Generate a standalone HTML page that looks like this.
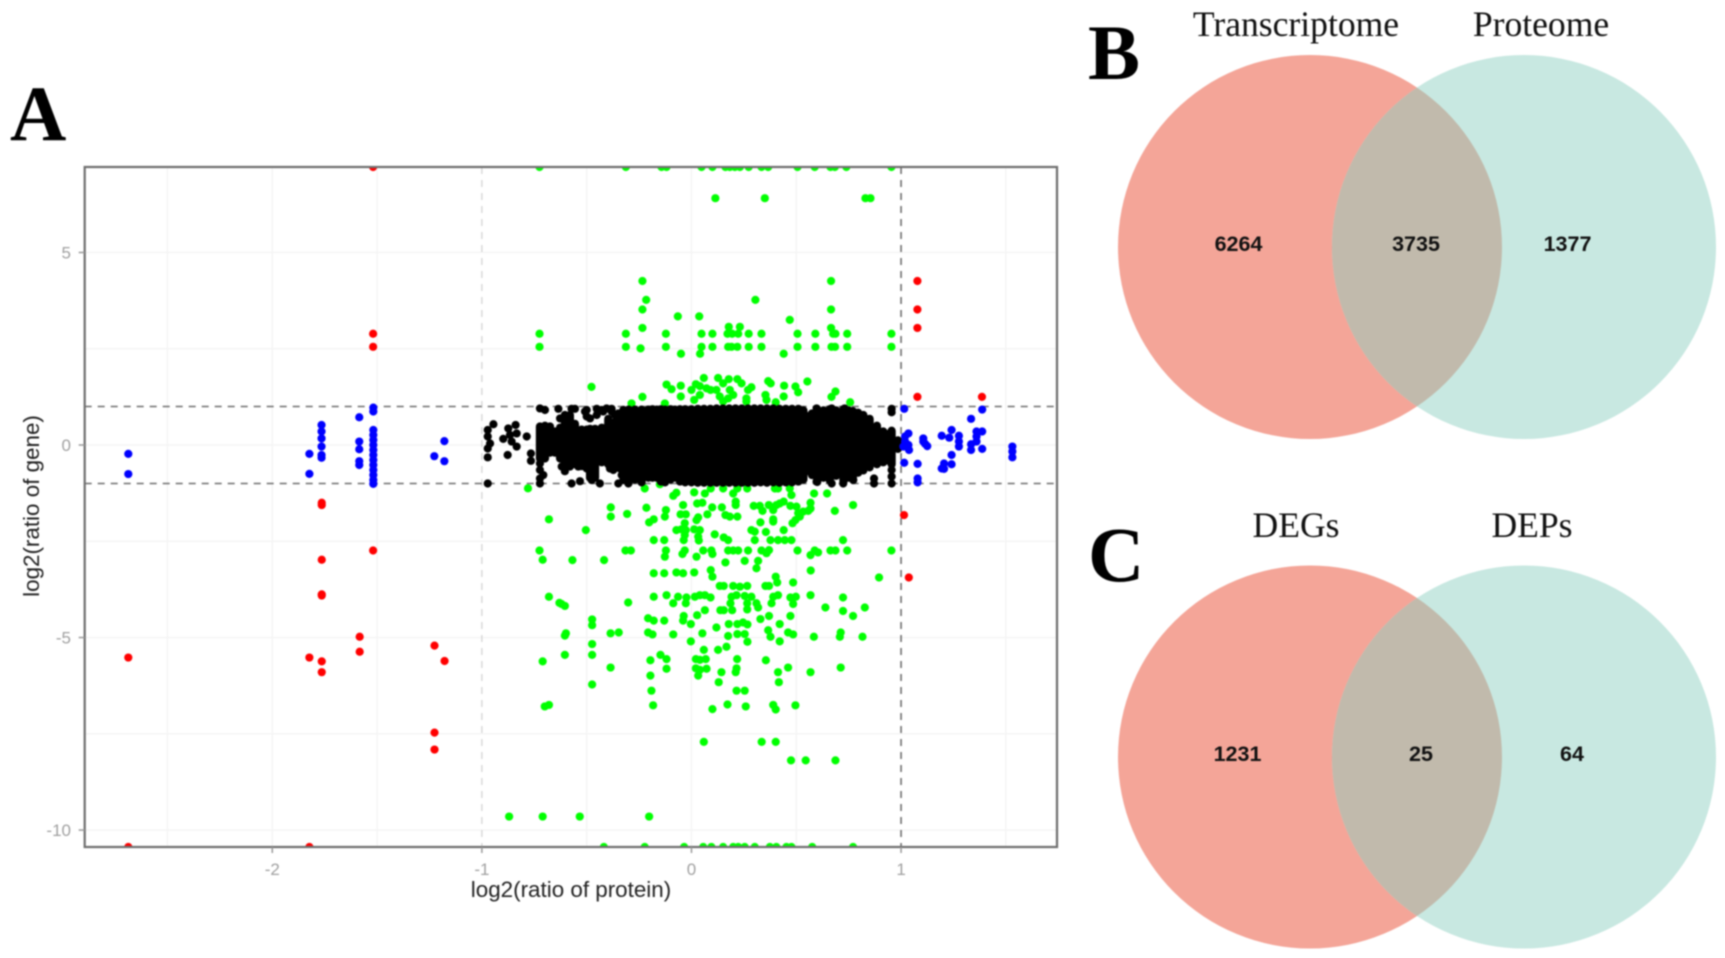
<!DOCTYPE html>
<html lang="en">
<head>
<meta charset="utf-8">
<title>Transcriptome and proteome comparison</title>
<style>
html,body{margin:0;padding:0;background:#fff;width:1725px;height:958px;overflow:hidden}
svg{display:block;filter:blur(0.7px)}
.panel{font-family:"Liberation Serif",serif;font-weight:bold;font-size:78px;fill:#000}
.set{font-family:"Liberation Serif",serif;font-size:35.6px;fill:#111;text-anchor:middle}
.num{font-family:"Liberation Sans",sans-serif;font-weight:bold;font-size:21.5px;fill:#111;text-anchor:middle}
.tick{font-family:"Liberation Sans",sans-serif;font-size:17px;fill:#a0a0a0}
.title{font-family:"Liberation Sans",sans-serif;font-size:22.4px;fill:#222;text-anchor:middle}
</style>
</head>
<body>
<svg id="fig" xmlns="http://www.w3.org/2000/svg" width="1725" height="958" viewBox="0 0 1725 958">
  <defs>
    <clipPath id="panelClip"><rect x="84.7" y="167" width="972.3" height="680"/></clipPath>
    <clipPath id="vennBClip"><ellipse cx="1310" cy="247" rx="192" ry="192"/></clipPath>
    <clipPath id="vennCClip"><ellipse cx="1310" cy="757" rx="192" ry="191.5"/></clipPath>
  </defs>
  <text class="panel" x="10" y="140">A</text>
  <text class="panel" x="1088" y="79">B</text>
  <text class="panel" x="1088" y="581">C</text>

  <g id="plot"></g>
  <text class="title" x="571" y="897">log2(ratio of protein)</text>
  <text class="title" transform="translate(39 506) rotate(-90)">log2(ratio of gene)</text>

  <g>
    <ellipse cx="1310" cy="247" rx="192" ry="192" fill="#f4a598"/>
    <ellipse cx="1524" cy="247" rx="192" ry="192" fill="#c8e8e1"/>
    <ellipse cx="1524" cy="247" rx="192" ry="192" fill="#c1baac" clip-path="url(#vennBClip)"/>
    <text class="set" x="1296" y="36">Transcriptome</text>
    <text class="set" x="1541" y="36">Proteome</text>
    <text class="num" x="1238.5" y="251">6264</text>
    <text class="num" x="1416" y="251">3735</text>
    <text class="num" x="1567.5" y="251">1377</text>
  </g>
  <g>
    <ellipse cx="1310" cy="757" rx="192" ry="191.5" fill="#f4a598"/>
    <ellipse cx="1524" cy="757" rx="192" ry="191.5" fill="#c8e8e1"/>
    <ellipse cx="1524" cy="757" rx="192" ry="191.5" fill="#c1baac" clip-path="url(#vennCClip)"/>
    <text class="set" x="1296" y="537">DEGs</text>
    <text class="set" x="1532" y="537">DEPs</text>
    <text class="num" x="1237.5" y="761">1231</text>
    <text class="num" x="1421" y="761">25</text>
    <text class="num" x="1572" y="761">64</text>
  </g>
</svg>
<script>
const xTickValues=[-2,-1,0,1];
const yTickValues=[5,0,-5,-10];
const xGridValues=[-2.5,-2,-1.5,-0.5,0,0.5,1.5];
const yGridValues=[5,2.5,0,-2.5,-5,-7.5,-10];
const hThresholds=[1,-1];
const vThresholdDark=[1];
const vThresholdLight=[-1];

const redPoints=[[-1.519,7.22],[-1.519,2.89],[-1.519,2.55],[-1.764,-1.5],[-1.764,-1.56],[-1.519,-2.74],[-1.764,-2.98],[-1.764,-3.91],[-1.764,-3.88],[-1.583,-4.98],[-1.583,-5.37],[-1.823,-5.52],[-1.764,-5.62],[-1.764,-5.9],[-2.687,-5.52],[-1.226,-5.21],[-1.178,-5.61],[-1.226,-7.47],[-1.226,-7.91],[-2.687,-10.44],[-1.823,-10.44],[1.078,4.26],[1.078,3.52],[1.078,3.04],[1.078,1.25],[1.386,1.25],[1.014,-1.82],[1.037,-3.44]];

const bluePoints=[[-2.687,-0.23],[-2.687,-0.755],[-1.823,-0.23],[-1.823,-0.75],[-1.765,0.52],[-1.765,0.35],[-1.765,0.17],[-1.765,-0.04],[-1.765,-0.26],[-1.765,-0.33],[-1.585,0.72],[-1.585,0.09],[-1.585,-0.11],[-1.585,-0.42],[-1.585,-0.52],[-1.518,0.97],[-1.518,0.87],[-1.518,0.39],[-1.518,0.26],[-1.518,0.13],[-1.518,0],[-1.518,-0.13],[-1.518,-0.26],[-1.518,-0.39],[-1.518,-0.52],[-1.518,-0.65],[-1.518,-0.78],[-1.518,-0.91],[-1.518,-1.01],[-1.227,-0.29],[-1.179,0.1],[-1.179,-0.42],
[1.015,0.94],[1.019,0.22],[1.035,0.3],[1.019,0.09],[1.035,0],[1.038,-0.13],[1.011,-0.04],[1.106,0.17],[1.106,0.09],[1.125,-0.03],[1.115,0.03],[1.015,-0.46],[1.079,-0.49],[1.079,-0.87],[1.079,-0.97],[1.194,0.24],[1.241,0.39],[1.23,0.19],[1.276,0.24],[1.276,0.09],[1.276,-0.04],[1.241,-0.26],[1.241,-0.5],[1.205,-0.48],[1.194,-0.61],[1.205,-0.62],[1.334,0.68],[1.36,0.35],[1.387,0.35],[1.36,0.22],[1.36,0.09],[1.334,0.02],[1.334,-0.13],[1.387,-0.1],[1.387,0.92],[1.531,-0.04],[1.531,-0.17],[1.531,-0.32]];

const greenPoints=[[-0.725,7.22],[-0.313,7.22],[-0.143,7.22],[-0.119,7.22],[0.048,7.22],[0.1,7.22],[0.162,7.22],[0.183,7.22],[0.207,7.22],[0.231,7.22],[0.273,7.22],[0.334,7.22],[0.366,7.22],[0.506,7.22],[0.588,7.22],[0.663,7.22],[0.684,7.22],[0.739,7.22],[0.954,7.22],
[0.114,6.41],[0.35,6.41],[0.83,6.41],[0.854,6.41],
[-0.234,4.26],[0.666,4.26],[-0.216,3.77],[0.305,3.77],[-0.234,3.52],[0.666,3.52],[-0.065,3.34],[0.037,3.34],[0.469,3.25],[0.178,3.07],[0.231,3.07],[-0.234,3.04],[0.666,3.04],
[-0.725,2.89],[-0.313,2.89],[-0.122,2.89],[0.048,2.89],[0.1,2.89],[0.172,2.89],[0.194,2.89],[0.223,2.89],[0.273,2.89],[0.334,2.89],[0.506,2.89],[0.591,2.89],[0.676,2.89],[0.687,2.89],[0.743,2.89],[0.954,2.89],
[-0.725,2.55],[-0.313,2.55],[-0.122,2.55],[0.048,2.55],[0.1,2.55],[0.175,2.55],[0.191,2.55],[0.219,2.55],[0.273,2.55],[0.334,2.55],[0.506,2.55],[0.591,2.55],[0.668,2.55],[0.685,2.55],[0.743,2.55],[0.954,2.55],[-0.243,2.51],[-0.05,2.37],[0.041,2.37],[0.44,2.37],
[-0.119,1.57],[-0.095,1.45],[-0.051,1.54],[-0.051,1.26],[0,1.43],[0.021,1.58],[0.059,1.74],[0.04,1.53],[0.072,1.47],[0.091,1.43],[0.04,1.3],[0.013,1.17],[0.127,1.74],[0.119,1.43],[0.151,1.6],[0.178,1.71],[0.219,1.71],[0.183,1.43],[0.239,1.6],[0.286,1.5],[0.27,1.43],[0.135,1.26],[0.175,1.21],[0.199,1.3],[0.262,1.21],[0.151,1.13],[0.262,1.13],[0.366,1.66],[0.378,1.6],[0.442,1.54],[0.496,1.52],[0.509,1.37],[0.553,1.65],[0.44,1.26],[0.353,1.3],[0.358,1.17],[0.402,1.11],[0.687,1.39],[0.668,1.25],[0.757,1.11],[-0.234,1.25],[-0.286,1.08],[-0.127,1.08],[-0.477,1.51],
[-0.78,-1.125],[-0.68,-1.93],[-0.725,-2.74],[-0.71,-2.98],[-0.68,-3.94],[-0.63,-4.1],[-0.71,-5.62],[-0.7,-6.79],[-0.68,-6.75],[-0.87,-9.65],[-0.71,-9.65],
[-0.223,-1.13],[-0.151,-1.02],[-0.072,-1.24],[-0.087,-1.32],[0.013,-1.23],[0.064,-1.26],[0.092,-1.13],[0.151,-1.13],[0.199,-1.26],[0.219,-1.13],[0.266,-1.13],[0.398,-1.13],[0.413,-1.13],[0.469,-1.13],[0.477,-1.3],[0.585,-1.26],[0.647,-1.26],
[-0.385,-1.62],[-0.385,-1.86],[-0.307,-1.79],[-0.215,-1.63],[-0.122,-1.69],[-0.127,-1.86],[-0.04,-1.56],[-0.052,-1.8],[-0.027,-1.8],[0.027,-1.52],[0.052,-1.5],[0.211,-1.47],[0.211,-1.56],[0.099,-1.62],[0.076,-1.8],[0.032,-1.88],[0.024,-1.95],[0.145,-1.62],[0.162,-1.82],[0.183,-1.86],[0.219,-1.86],[0.297,-1.58],[0.326,-1.58],[0.339,-1.71],[0.369,-1.56],[0.39,-1.69],[0.421,-1.52],[0.44,-1.47],[0.405,-1.56],[0.472,-1.58],[0.501,-1.6],[0.568,-1.5],[0.568,-1.65],[0.557,-1.71],[0.533,-1.73],[0.509,-1.77],[0.517,-1.86],[0.496,-1.95],[0.482,-2.03],[0.771,-1.56],[0.684,-1.71],[-0.202,-2.01],[-0.18,-1.93],[0.329,-2.01],[0.39,-1.93],[0.39,-1.99],
[-0.504,-2.21],[-0.072,-2.21],[-0.032,-2.03],[-0.048,-2.19],[-0.027,-2.21],[0.013,-2.19],[0.04,-2.21],[0.032,-2.38],[0.035,-2.48],[-0.032,-2.34],[-0.037,-2.47],[0.111,-2.32],[0.154,-2.4],[0.175,-2.47],[0.286,-2.21],[0.302,-2.25],[0.355,-2.26],[0.44,-2.21],[0.302,-2.47],[0.377,-2.47],[0.413,-2.47],[0.445,-2.47],[0.477,-2.47],[0.723,-2.47],[-0.18,-2.47],[-0.13,-2.47],
[-0.315,-2.74],[-0.289,-2.74],[-0.122,-2.74],[-0.127,-2.9],[-0.032,-2.74],[-0.043,-2.83],[0.056,-2.74],[0.095,-2.74],[0.1,-2.83],[0.024,-2.9],[0.175,-2.74],[0.199,-2.74],[0.223,-2.74],[0.27,-2.74],[0.334,-2.74],[0.37,-2.73],[0.358,-2.81],[0.506,-2.74],[0.588,-2.74],[0.604,-2.79],[0.568,-2.86],[0.663,-2.74],[0.687,-2.74],[0.743,-2.74],[0.954,-2.74],[-0.568,-2.99],[-0.417,-2.99],[0.162,-3.05],[0.254,-3.01],[0.318,-3.01],[0.31,-3.2],
[-0.18,-3.33],[-0.13,-3.33],[-0.072,-3.31],[-0.04,-3.33],[0.013,-3.31],[0.092,-3.25],[0.1,-3.42],[0.569,-3.26],[0.402,-3.42],[0.409,-3.57],[0.485,-3.57],[0.895,-3.44],
[0.135,-3.66],[0.154,-3.66],[0.199,-3.66],[0.231,-3.68],[0.266,-3.66],[0.353,-3.66],[0.37,-3.66],[-0.18,-3.94],[-0.119,-3.9],[-0.087,-4.11],[-0.064,-3.94],[-0.024,-3.96],[-0.027,-4.11],[0.016,-3.94],[0.04,-3.9],[0.064,-3.9],[0.091,-3.96],[0.215,-3.9],[0.191,-3.94],[0.186,-4.11],[0.254,-3.92],[0.286,-3.94],[0.266,-4.11],[0.266,-4.27],[0.31,-4.11],[0.318,-4.22],[0.39,-3.94],[0.413,-3.9],[0.382,-4.11],[0.472,-3.96],[0.498,-3.94],[0.485,-4.13],[0.568,-3.9],[0.723,-3.96],[0.639,-4.22],[0.723,-4.31],[0.771,-4.44],[0.827,-4.22],[-0.302,-4.09],[-0.604,-4.18],[-0.62,-4.13],
[-0.474,-4.53],[-0.474,-4.68],[-0.207,-4.5],[-0.18,-4.56],[-0.13,-4.56],[-0.037,-4.44],[-0.04,-4.56],[-0.003,-4.65],[0.027,-4.42],[0.064,-4.29],[0.138,-4.29],[0.154,-4.29],[0.194,-4.29],[0.329,-4.52],[0.37,-4.44],[0.472,-4.44],[0.421,-4.65],[0.178,-4.65],[0.219,-4.65],[0.246,-4.61],[0.267,-4.66],
[-0.599,-4.89],[-0.604,-4.95],[-0.386,-4.89],[-0.347,-4.87],[-0.207,-4.87],[-0.186,-4.92],[-0.087,-4.92],[0.052,-4.89],[0.119,-4.74],[0.175,-4.96],[0.219,-4.91],[0.254,-4.91],[0.366,-4.81],[0.377,-4.98],[0.461,-4.87],[0.485,-4.92],[0.584,-4.98],[0.712,-4.87],[0.708,-4.98],[0.816,-4.98],[0.267,-5.11],[0.421,-5.1],[-0.003,-5.1],[-0.474,-5.17],
[-0.604,-5.45],[-0.474,-5.45],[-0.148,-5.45],[-0.119,-5.56],[-0.196,-5.59],[0.059,-5.32],[0.127,-5.32],[0.167,-5.24],[0.021,-5.56],[0.04,-5.58],[0.068,-5.56],[0.218,-5.56],[0.355,-5.59],[-0.386,-5.78],[-0.119,-5.81],[-0.196,-5.99],[0.021,-5.8],[0.04,-5.84],[0.072,-5.81],[0.032,-5.99],[0.143,-5.9],[0.215,-5.8],[0.211,-5.9],[0.413,-5.9],[0.461,-5.78],[0.568,-5.9],[0.712,-5.78],[-0.474,-6.22],[0.13,-6.16],[0.417,-6.16],
[-0.191,-6.38],[0.215,-6.38],[0.254,-6.38],[-0.183,-6.76],[0.1,-6.86],[0.172,-6.74],[0.259,-6.79],[0.39,-6.75],[0.402,-6.87],[0.496,-6.76],[0.059,-7.71],[0.335,-7.71],[0.402,-7.71],[0.475,-8.19],[0.545,-8.19],[0.687,-8.19],[-0.533,-9.65],[-0.202,-9.65],
[-0.418,-10.44],[-0.223,-10.44],[-0.035,-10.44],[0.056,-10.44],[0.095,-10.44],[0.151,-10.44],[0.199,-10.44],[0.223,-10.44],[0.254,-10.44],[0.302,-10.44],[0.374,-10.44],[0.405,-10.44],[0.453,-10.44],[0.477,-10.44],[0.576,-10.44],[0.771,-10.44]];

const blackPoints=[[-0.972,-1],[-0.972,-0.32],[-0.877,-0.26],[-0.972,-0.09],[-0.961,0.04],[-0.972,0.22],[-0.972,0.39],[-0.945,0.54],[-0.898,0.16],[-0.874,0.43],[-0.866,0.26],[-0.858,0.09],[-0.839,0.52],[-0.834,0.3],[-0.834,-0.04],[-0.786,0.22],[-0.766,-0.22],[-0.766,-0.41],
[-0.723,0.95],[-0.699,0.91],[-0.635,0.94],[-0.572,0.94],[-0.58,0.78],[-0.5,0.91],[-0.5,0.74],[-0.452,0.94],[-0.405,0.95],[-0.421,0.87],[-0.381,0.87],[-0.365,0.78],
[-0.627,0.69],[-0.604,0.78],[-0.556,0.94],[-0.508,0.87],[-0.484,0.69],[-0.452,0.78],[-0.428,0.91],[-0.381,0.94],[-0.349,0.82],[-0.325,0.91],
[-0.723,-0.48],[-0.723,-0.65],[-0.723,-1],[-0.707,-0.78],[-0.723,-0.87],[-0.604,-0.68],[-0.572,-1],[-0.532,-0.94],[-0.476,-0.91],[-0.476,-0.74],[-0.437,-1],[-0.389,-0.61],[-0.349,-1],[-0.301,-1],
[-0.619,-0.56],[-0.58,-0.56],[-0.54,-0.56],[-0.5,-0.61],[-0.476,-0.87],[-0.373,-0.65],[-0.333,-0.78],[-0.325,-0.91],[-0.27,-0.78],
[0.955,0.94],[0.955,0.85],[0.871,-0.87],[0.871,-1],[0.955,-0.65],[0.955,-0.82],[0.955,-1],[0.772,-0.91],[0.724,-1],[0.669,-1],[0.597,-0.95],[0.597,0.95],[0.669,0.95],[0.731,0.95]];

const cloudX=[-0.723,-0.699,-0.675,-0.651,-0.627,-0.604,-0.58,-0.556,-0.524,-0.5,-0.484,-0.46,-0.428,-0.397,-0.365,-0.345,-0.325,-0.3,-0.27,-0.238,-0.206,-0.186,-0.166,-0.146,-0.126,-0.1,-0.079,-0.055,-0.03,0,0.03,0.06,0.09,0.12,0.15,0.18,0.21,0.24,0.27,0.3,0.33,0.36,0.39,0.42,0.45,0.48,0.51,0.534,0.55,0.575,0.6,0.63,0.66,0.69,0.725,0.75,0.77,0.795,0.82,0.85,0.885,0.915,0.945,0.955,0.985];
const cloudHigh=[0.48,0.5,0.48,0.35,0.45,0.7,0.75,0.55,0.4,0.4,0.42,0.42,0.45,0.68,0.6,0.7,0.85,0.92,0.92,0.92,0.92,0.93,0.92,0.93,0.92,0.93,0.92,0.93,0.93,0.93,0.94,0.94,0.94,0.95,0.95,0.95,0.95,0.95,0.95,0.95,0.95,0.95,0.95,0.94,0.94,0.94,0.94,0.9,0.75,0.82,0.93,0.9,0.93,0.9,0.93,0.9,0.88,0.84,0.78,0.68,0.5,0.35,0.3,0.37,0.12];
const cloudLow=[-0.35,-0.35,-0.2,-0.2,-0.35,-0.5,-0.55,-0.5,-0.55,-0.55,-0.85,-0.85,-0.45,-0.5,-0.5,-0.6,-0.7,-0.9,-0.9,-0.97,-0.85,-0.85,-0.85,-0.95,-0.97,-0.9,-0.85,-0.95,-0.97,-0.97,-0.98,-0.98,-0.98,-0.98,-0.98,-0.98,-0.98,-0.98,-0.98,-0.98,-0.97,-0.98,-0.97,-0.98,-0.97,-0.97,-0.95,-0.9,-0.68,-0.78,-0.96,-0.85,-0.92,-0.8,-0.95,-0.85,-0.85,-0.72,-0.66,-0.58,-0.5,-0.45,-0.42,-0.5,-0.1];

const xDomain=[-2.895,1.744], xRange=[84.7,1057];
const yDomain=[7.22,-10.44], yRange=[167,847];
function xScale(v){return xRange[0]+(v-xDomain[0])/(xDomain[1]-xDomain[0])*(xRange[1]-xRange[0]);}
function yScale(v){return yRange[0]+(v-yDomain[0])/(yDomain[1]-yDomain[0])*(yRange[1]-yRange[0]);}
const NS='http://www.w3.org/2000/svg';
const plot=document.getElementById('plot');
function mk(tag,attrs,parent){
  const el=document.createElementNS(NS,tag);
  for(const k in attrs){el.setAttribute(k,attrs[k]);}
  (parent||plot).appendChild(el);
  return el;
}
const bg=mk('rect',{x:xRange[0],y:yRange[0],width:xRange[1]-xRange[0],height:yRange[1]-yRange[0],fill:'#fff'});



xGridValues.forEach(function(v){
  const el=mk('line',{x1:xScale(v),x2:xScale(v),y1:yRange[0],y2:yRange[1],stroke:'#f4f4f4','stroke-width':1.4});
  
  
});
yGridValues.forEach(function(v){
  const el=mk('line',{x1:xRange[0],x2:xRange[1],y1:yScale(v),y2:yScale(v),stroke:'#f4f4f4','stroke-width':1.4});
  
  
});
vThresholdLight.forEach(function(v){
  const el=mk('line',{x1:xScale(v),x2:xScale(v),y1:yRange[0],y2:yRange[1],stroke:'#d4d4d4','stroke-width':1.3,'stroke-dasharray':'7 6'});
  
  
});
vThresholdDark.forEach(function(v){
  const el=mk('line',{x1:xScale(v),x2:xScale(v),y1:yRange[0],y2:yRange[1],stroke:'#6e6e6e','stroke-width':1.6,'stroke-dasharray':'7 6'});
  
  
});
hThresholds.forEach(function(v){
  const el=mk('line',{x1:xRange[0],x2:xRange[1],y1:yScale(v),y2:yScale(v),stroke:'#6e6e6e','stroke-width':1.6,'stroke-dasharray':'7 6'});
  
  
});

const marks=mk('g',{'clip-path':'url(#panelClip)'});


greenPoints.forEach(function(p){
  const el=mk('circle',{cx:xScale(p[0]),cy:yScale(p[1]),r:4.1,fill:'#00ff00'},marks);
  
  
});
cloudX.forEach(function(x,i){
  const el=mk('line',{x1:xScale(x),x2:xScale(x),y1:yScale(cloudHigh[i]),y2:yScale(cloudLow[i]),stroke:'#000','stroke-width':8.2,'stroke-linecap':'round'},marks);
  
  
});
blackPoints.forEach(function(p){
  const el=mk('circle',{cx:xScale(p[0]),cy:yScale(p[1]),r:4.1,fill:'#000'},marks);
  
  
});
redPoints.forEach(function(p){
  const el=mk('circle',{cx:xScale(p[0]),cy:yScale(p[1]),r:4.1,fill:'#ff0000'},marks);
  
  
});
bluePoints.forEach(function(p){
  const el=mk('circle',{cx:xScale(p[0]),cy:yScale(p[1]),r:4.1,fill:'#0000ff'},marks);
  
  
});

const frame=mk('rect',{x:xRange[0],y:yRange[0],width:xRange[1]-xRange[0],height:yRange[1]-yRange[0],fill:'none',stroke:'#6e6e6e','stroke-width':2.2});



xTickValues.forEach(function(v){
  const t=mk('line',{x1:xScale(v),x2:xScale(v),y1:yRange[1],y2:yRange[1]+6,stroke:'#999','stroke-width':1.5});
  
  
  const l=mk('text',{x:xScale(v),y:875,'text-anchor':'middle','class':'tick'});
  l.textContent=String(v);
  
  
});
yTickValues.forEach(function(v){
  const t=mk('line',{x1:xRange[0]-6,x2:xRange[0],y1:yScale(v),y2:yScale(v),stroke:'#999','stroke-width':1.5});
  
  
  const l=mk('text',{x:71,y:yScale(v)+6,'text-anchor':'end','class':'tick'});
  l.textContent=String(v);
  
  
});
</script>
</body>
</html>
